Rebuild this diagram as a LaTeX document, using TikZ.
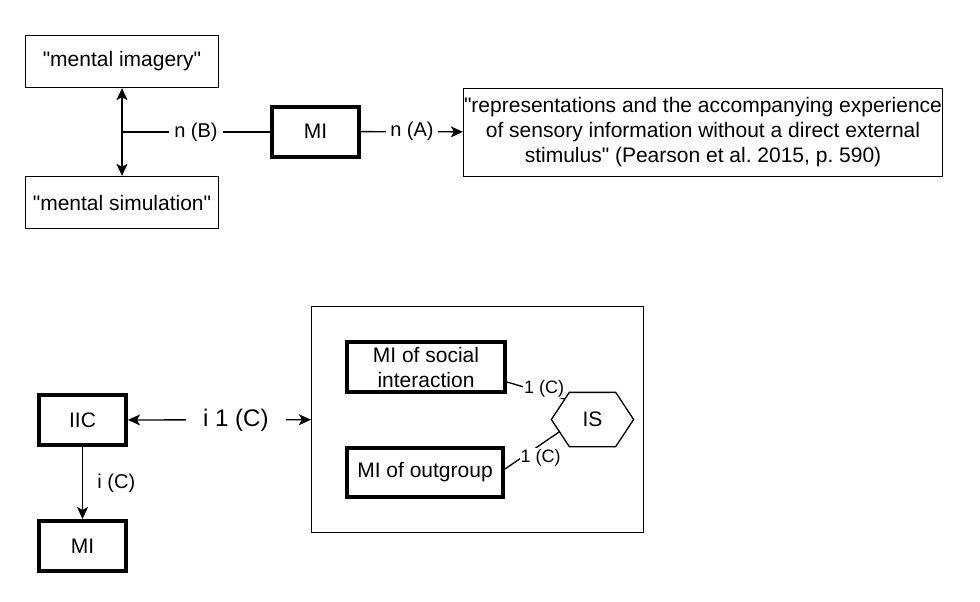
\documentclass[tikz,border=0pt]{standalone}
\usepackage{fontspec}
\setmainfont{Liberation Sans}[Ligatures=TeXOff]
\usetikzlibrary{arrows.meta,calc}

\begin{document}
\begin{tikzpicture}[x=1pt,y=-1pt,line width=1.3pt,
  box/.style={draw,inner sep=0pt,align=center,font=\fontsize{21}{25}\selectfont},
  bbox/.style={box,line width=4pt,minimum width=87pt,minimum height=50pt},
  lbl/.style={fill=white,inner ysep=2pt,inner xsep=5pt,font=\fontsize{20}{24}\selectfont},
  slbl/.style={fill=white,inner sep=1pt,font=\fontsize{18}{22}\selectfont},
  >={Stealth[length=12pt,width=11pt,inset=3pt]}]
  \useasboundingbox (0,0) rectangle (980,602);
  \node[box,minimum width=193pt,minimum height=52pt] (img) at (122,61.5) {"mental imagery"};
  \node[box,minimum width=193pt,minimum height=52pt] (sim) at (122,202.5) {"mental simulation"};
  \node[bbox] (mi) at (315.5,131.5) {MI};
  \node[box,minimum width=479pt,minimum height=88pt] (def) at (703,132.5) {"representations and the accompanying experience\\of sensory information without a direct external\\stimulus" (Pearson et al.\ 2015, p.\ 590)};
  \draw[<->] (img) -- (sim); \coordinate (m) at ($(img.south)!0.5!(sim.north)$);
  \draw (m) -- node[lbl]{n (B)} (m -| mi.west); \draw[->] (mi) -- node[lbl,inner xsep=4pt]{n (A)} (def);
  \node[bbox] (iic) at (82.5,420) {IIC}; \node[bbox] (mi2) at (82.5,546) {MI};
  \node[draw,minimum width=332pt,minimum height=226pt] (grp) at (477.5,419.5) {};
  \node[bbox,minimum width=158pt] (soc) at (426,367) {MI of social\\interaction};
  \node[bbox,minimum width=156pt,minimum height=49pt] (out) at (425,472.5) {MI of outgroup};
  \node[box,draw=none,minimum width=81pt,minimum height=53pt] (is) at (592.5,419.5) {IS};
  \coordinate (isa) at ($(is.north west)+(18,0)$); \coordinate (isb) at ($(is.south west)+(18,0)$);
  \draw (is.west) -- (isa) -- ($(is.north east)+(-18,0)$) -- (is.east) -- ($(is.south east)+(-18,0)$) -- (isb) -- cycle;
  \draw[->] (iic) -- node[anchor=west,xshift=11pt,font=\fontsize{20}{24}\selectfont]{i (C)} (mi2);
  \draw[<->] (iic) -- node[pos=0.59,fill=white,inner xsep=17pt,font=\fontsize{24}{28}\selectfont]{i 1 (C)} (grp);
  \draw ($(soc.east)+(0,15)$) -- node[slbl,pos=0.64,yshift=4pt]{1 (C)} ($(is.west)!0.75!(isa)$);
  \draw ($(out.east)+(0,-3.5)$) -- node[slbl,pos=0.6,xshift=3pt,yshift=-11pt]{1 (C)} ($(is.west)!0.45!(isb)$);
\end{tikzpicture}
\end{document}
